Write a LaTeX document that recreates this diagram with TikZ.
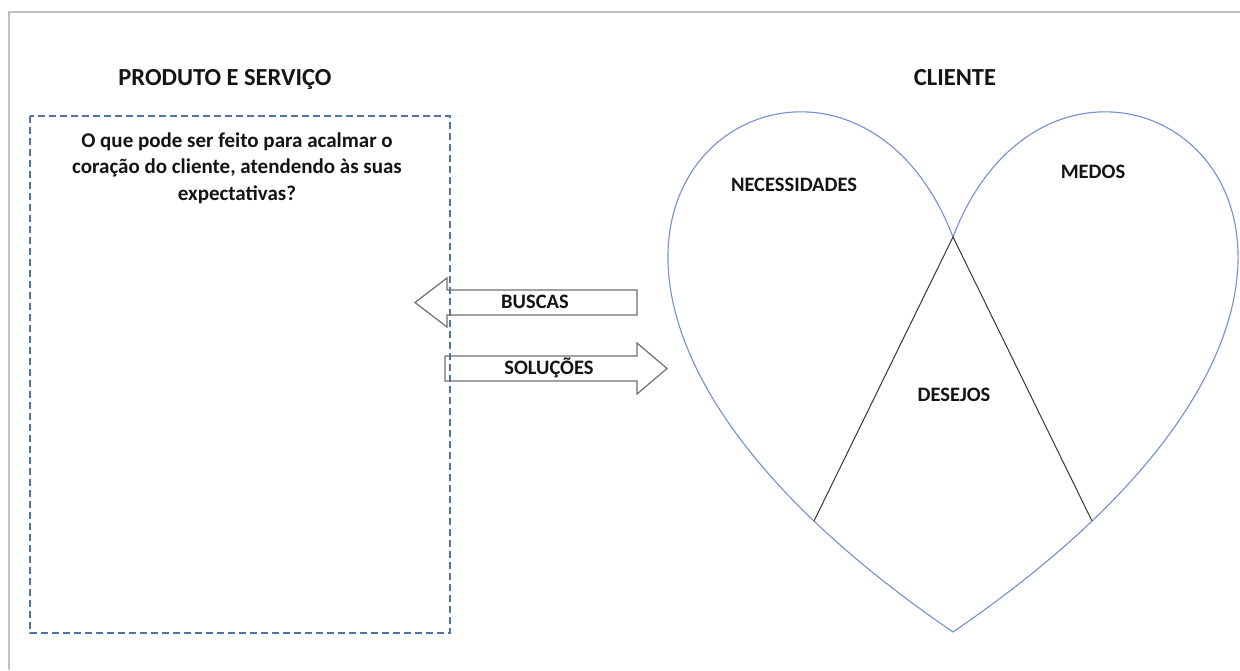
\documentclass[tikz,border=0pt]{standalone}
\usepackage{fontspec}
\setmainfont{Carlito}
\definecolor{framegray}{RGB}{192,192,192}
\definecolor{boxblue}{RGB}{79,116,168}
\definecolor{heartblue}{RGB}{115,145,205}
\definecolor{arrowgray}{RGB}{112,112,112}
\definecolor{ink}{RGB}{20,20,20}
\begin{document}
\begin{tikzpicture}[x=1pt,y=-1pt,
  frameline/.style={draw=framegray,line width=2pt},
  dashbox/.style={draw=boxblue,line width=2pt,dash pattern=on 7pt off 4pt},
  heartline/.style={draw=heartblue,line width=1.1pt},
  divider/.style={draw=ink!85,line width=1pt},
  fatarrow/.style={draw=arrowgray,line width=1.2pt,line join=miter},
  title/.style={font=\bfseries\fontsize{24.5}{28}\selectfont,text=ink,anchor=base},
  label/.style={font=\bfseries\fontsize{20.5}{24}\selectfont,text=ink},
  question/.style={font=\bfseries\fontsize{21}{26.5}\selectfont,text=ink,align=center}]
\useasboundingbox (0,0) rectangle (1240,670);
\fill[white] (0,0) rectangle (1240,670);
% outer frame (top and left edges)
\draw[frameline] (9,670) -- (9,12) -- (1240,12);

% titles, set on a common baseline
\node[title] (tprod) at (225,85.5) {PRODUTO E SERVIÇO};
\node[title] (tcli) at (955,85.5) {CLIENTE};

% product / service box
\draw[dashbox] (30,116) rectangle (450,633);
\node[question] (q) at (237,168) {O que pode ser feito para acalmar o\\coração do cliente, atendendo às suas\\expectativas?};

% block arrows
\draw[fatarrow] (637,290) -- (447,290) -- (447,278) -- (415,302.5) -- (447,327) -- (447,315) -- (637,315) -- cycle;
\node[label] (busca) at (535,302) {BUSCAS};
\draw[fatarrow] (445,356) -- (637,356) -- (637,343) -- (667,368.5) -- (637,394) -- (637,381) -- (445,381) -- cycle;
\node[label] (sol) at (549,368) {SOLUÇÕES};

% heart
\coordinate (cusp) at (953,237);
\coordinate (tip) at (953,632);
\coordinate (lfoot) at (814,521);
\coordinate (rfoot) at (1092,521);
\draw[heartline] (cusp) .. controls (1070.9,-70.3) and (1530.8,237) .. (tip)
  .. controls (375.2,237) and (835.1,-70.3) .. (cusp) -- cycle;
\draw[divider] (lfoot) -- (cusp) -- (rfoot);

\node[label] (nec) at (794,185) {NECESSIDADES};
\node[label] (med) at (1093,172) {MEDOS};
\node[label] (des) at (954,395) {DESEJOS};
\end{tikzpicture}
\end{document}
